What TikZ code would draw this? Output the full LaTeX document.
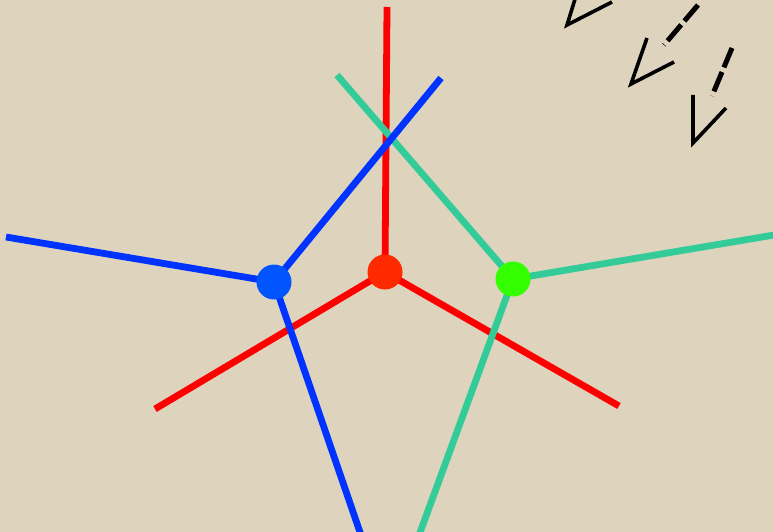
\documentclass[tikz,border=0pt]{standalone}
\begin{document}
\begin{tikzpicture}[x=1pt,y=-1pt,
  edgeline/.style={line width=6.8pt},
  dot/.style={circle,inner sep=0pt,minimum size=35pt},
  shaft/.style={line width=5pt,dash pattern=on 21pt off 5pt},
  vhead/.style={line width=3.6pt,line join=miter,miter limit=20}]
\definecolor{bg}{RGB}{222,212,190}
\definecolor{redline}{RGB}{255,0,0}
\definecolor{rednode}{RGB}{255,42,0}
\definecolor{blueline}{RGB}{0,51,255}
\definecolor{bluenode}{RGB}{0,85,255}
\definecolor{greenline}{RGB}{51,204,153}
\definecolor{greennode}{RGB}{51,255,0}
\fill[bg] (0,0) rectangle (773,532);
\useasboundingbox (0,0) rectangle (773,532);
\clip (0,0) rectangle (773,532);
% end points
\coordinate (r1) at (387,7);
\coordinate (r2) at (155,409);
\coordinate (r3) at (619,406);
\coordinate (b1) at (6,237);
\coordinate (b2) at (441,78);
\coordinate (b3) at (362,538);
\coordinate (g1) at (337,75);
\coordinate (g2) at (780,234);
\coordinate (g3) at (418,538);
% node positions
\coordinate (rc) at (385,272);
\coordinate (bc) at (274,282);
\coordinate (gc) at (513,279);
% lines
\draw[edgeline,redline] (rc) -- (r1);
\draw[edgeline,redline] (rc) -- (r2);
\draw[edgeline,redline] (rc) -- (r3);
\draw[edgeline,greenline] (gc) -- (g1);
\draw[edgeline,blueline] (bc) -- (b2);
\draw[edgeline,blueline] (bc) -- (b1);
\draw[edgeline,blueline] (bc) -- (b3);
\draw[edgeline,greenline] (gc) -- (g2);
\draw[edgeline,greenline] (gc) -- (g3);
\node[dot,fill=rednode] (R) at (rc) {};
\node[dot,fill=bluenode] (B) at (bc) {};
\node[dot,fill=greennode] (G) at (gc) {};
% arrows
\coordinate (a1t) at (567,25);
\coordinate (a1l) at (576,-4);
\coordinate (a1r) at (612,2);
\draw[vhead] (a1l) -- (a1t) -- (a1r);
\coordinate (a2s) at (698,5);
\coordinate (a2e) at (664,45);
\coordinate (a2t) at (631,84);
\coordinate (a2l) at (647,38);
\coordinate (a2r) at (674,62);
\draw[shaft] (a2s) -- (a2e);
\draw[vhead] (a2l) -- (a2t) -- (a2r);
\coordinate (a3s) at (732,48);
\coordinate (a3e) at (712,96);
\coordinate (a3t) at (693,143);
\coordinate (a3l) at (693,95);
\coordinate (a3r) at (726,108);
\draw[shaft] (a3s) -- (a3e);
\draw[vhead] (a3l) -- (a3t) -- (a3r);
\end{tikzpicture}
\end{document}
